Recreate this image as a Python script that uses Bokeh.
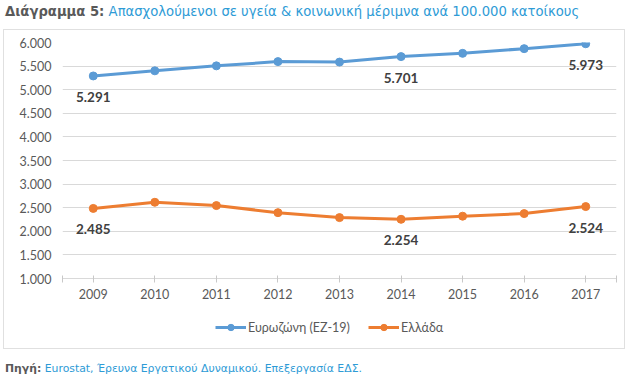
from bokeh.plotting import figure
from bokeh.models import Div, Legend, LegendItem, FixedTicker, ColumnDataSource
from bokeh.layouts import column
from bokeh.embed import file_html
from bokeh.resources import INLINE
from bokeh.core.properties import value

years = ["2009", "2010", "2011", "2012", "2013", "2014", "2015", "2016", "2017"]
eurozone = [5291, 5400, 5505, 5595, 5585, 5701, 5770, 5870, 5973]
greece = [2485, 2615, 2545, 2395, 2290, 2254, 2320, 2375, 2524]
labelled_idx = [0, 5, 8]
y_ticks = [1000, 1500, 2000, 2500, 3000, 3500, 4000, 4500, 5000, 5500, 6000]
y_tick_labels = ["1.000", "1.500", "2.000", "2.500", "3.000", "3.500", "4.000", "4.500", "5.000", "5.500", "6.000"]
series_names = ["Ευρωζώνη (ΕΖ-19)", "Ελλάδα"]
title_prefix = "Διάγραμμα 5:"
title_text = "Απασχολούμενοι σε υγεία & κοινωνική μέριμνα ανά 100.000 κατοίκους"
source_prefix = "Πηγή:"
source_text = "Eurostat, Έρευνα Εργατικού Δυναμικού. Επεξεργασία ΕΔΣ."

def fmt(v):
    return f"{v:,}".replace(",", ".")

BLUE = "#5B9BD5"
ORANGE = "#ED7D31"
GRAY = "#595959"
LINK = "#2E9BD6"
font = "Lato"
NAN = float("nan")

xs = list(range(len(years)))

p = figure(width=620, height=280, output_backend="svg", toolbar_location=None,
           x_range=(-0.5, len(years) - 0.5), y_range=(1000, 6000),
           min_border_left=58, min_border_right=8, min_border_top=12, min_border_bottom=32,
           outline_line_color=None)

# y axis
p.yaxis.ticker = FixedTicker(ticks=y_ticks)
p.yaxis.major_label_overrides = {t: l for t, l in zip(y_ticks, y_tick_labels)}
p.yaxis.axis_line_color = None
p.yaxis.major_tick_line_color = None
p.yaxis.major_tick_out = 0
p.yaxis.major_tick_in = 0
p.yaxis.minor_tick_line_color = None
p.yaxis.minor_tick_out = 0
p.yaxis.major_label_standoff = 11
p.yaxis.major_label_text_font = font
p.yaxis.major_label_text_font_size = "12.5px"
p.yaxis.major_label_text_color = GRAY

# x axis
xt = [-0.5] + xs + [len(years) - 0.5]
p.xaxis.ticker = FixedTicker(ticks=xt)
ov = {i: y for i, y in zip(xs, years)}
ov[-0.5] = ""
ov[len(years) - 0.5] = ""
p.xaxis.major_label_overrides = ov
p.xaxis.axis_line_color = "#d9d9d9"
p.xaxis.major_tick_line_color = "#c8c8c8"
p.xaxis.major_tick_in = 3
p.xaxis.major_tick_out = 4
p.xaxis.minor_tick_line_color = None
p.xaxis.major_label_standoff = 6
p.xaxis.major_label_text_font = font
p.xaxis.major_label_text_font_size = "12.5px"
p.xaxis.major_label_text_color = GRAY

p.xgrid.grid_line_color = None
p.ygrid.ticker = FixedTicker(ticks=y_ticks)
p.ygrid.grid_line_color = "#d9d9d9"

src = ColumnDataSource(dict(x=xs, ez=eurozone, gr=greece))
p.line("x", "ez", source=src, line_color=BLUE, line_width=3)
p.scatter("x", "ez", source=src, size=8, fill_color=BLUE, line_color=BLUE)
p.line("x", "gr", source=src, line_color=ORANGE, line_width=3)
p.scatter("x", "gr", source=src, size=8, fill_color=ORANGE, line_color=ORANGE)

lab_x = [xs[i] for i in labelled_idx] * 2
lab_y = [eurozone[i] for i in labelled_idx] + [greece[i] for i in labelled_idx]
lab_t = [fmt(v) for v in lab_y]
p.text(x=lab_x, y=lab_y, text=lab_t, y_offset=21, text_align="center", text_baseline="middle",
       text_font=value(font), text_font_size="13.5px", text_font_style="bold", text_color="#404040")

# legend strip (separate small figure so the legend is not clipped)
lf = figure(width=620, height=38, output_backend="svg", toolbar_location=None,
            x_range=(0, 1), y_range=(0, 1), x_axis_type=None, y_axis_type=None,
            min_border=0, outline_line_color=None)
ll1 = lf.line(x=[NAN], y=[NAN], line_color=BLUE, line_width=3)
lc1 = lf.scatter(x=[NAN], y=[NAN], size=8, fill_color=BLUE, line_color=BLUE)
ll2 = lf.line(x=[NAN], y=[NAN], line_color=ORANGE, line_width=3)
lc2 = lf.scatter(x=[NAN], y=[NAN], size=8, fill_color=ORANGE, line_color=ORANGE)
legend = Legend(items=[LegendItem(label=series_names[0], renderers=[ll1, lc1]),
                       LegendItem(label=series_names[1], renderers=[ll2, lc2])],
                orientation="horizontal", location=(153, 13),
                glyph_width=31, glyph_height=16, label_height=16, label_standoff=2, spacing=18,
                padding=0, margin=0, border_line_color=None, background_fill_alpha=0,
                label_text_font=font, label_text_font_size="12.5px", label_text_color=GRAY)
lf.add_layout(legend, "center")

box = column(p, lf, spacing=0, width=622, height=320)
box.styles = {"border": "1px solid #e0e0e0", "transform": "translateX(3px)"}

title = Div(text=f'<span style="color:{GRAY};font-weight:bold">{title_prefix}</span> '
                 f'<span style="color:{LINK}">{title_text}</span>',
            width=624, height=19,
            styles={"font-family": "DejaVu Sans", "font-size": "13.2px", "line-height": "14px"})
source = Div(text=f'<span style="color:{GRAY};font-weight:bold">{source_prefix}</span> '
                  f'<span style="color:{LINK}">{source_text}</span>',
             width=624, height=16,
             styles={"font-family": "DejaVu Sans", "font-size": "10.85px", "line-height": "13px",
                     "margin-top": "13px"})

layout = column(title, box, source, spacing=0)
open("out.html", "w").write(file_html(layout, INLINE))
